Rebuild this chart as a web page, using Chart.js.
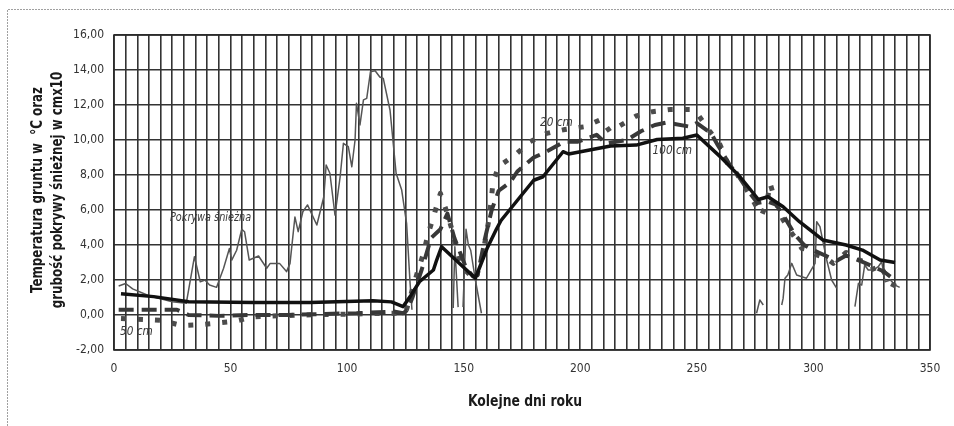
<!DOCTYPE html>
<html><head><meta charset="utf-8">
<script src="https://cdn.jsdelivr.net/npm/chart.js@4.4.0/dist/chart.umd.min.js"></script>
<style>html,body{margin:0;padding:0;background:#fff}#wrap{width:954px;height:426px;position:relative}</style>
</head><body><div id="wrap"><canvas id="c"></canvas></div>
<script>
// ---- data ----
const xLabelTicks = [0, 50, 100, 150, 200, 250, 300, 350];
const yLabelTicks = [-2, 0, 2, 4, 6, 8, 10, 12, 14, 16];

const depth100Days = [3,17,32,60,84,111,119,124,127,131,137,138.4,140.5,155,160,164,166,180,184,192.6,195,204,213,224,233,244,250,260,268.5,276.4,280.5,287,294,304,314,321,328.6,335];
const depth100Vals = [1.22,1.05,0.76,0.72,0.72,0.82,0.75,0.48,1.05,1.9,2.57,3.14,3.9,2.1,3.8,4.9,5.4,7.7,7.9,9.33,9.2,9.43,9.66,9.71,10.03,10.1,10.29,9.05,7.9,6.6,6.76,6.19,5.33,4.29,4.0,3.71,3.14,3.0];

const depth50Days = [2,15,27,32,45,58,75,90,104,120,124,126,128,132,136,140,143,146,151,154,156,159,162,165,170,173,180,185,193,199,207,211,220,226,232,237,247,250,256,259,264,268,272,276,280,284,288,292,296,300,305,310,314,320,325,330,335];
const depth50Vals = [0.3,0.3,0.3,0.0,-0.05,0.0,0.0,0.06,0.1,0.2,0.1,0.3,1.0,2.6,4.4,4.9,5.8,4.4,2.7,2.2,2.3,4.3,6.0,7.1,7.6,8.2,9.0,9.3,9.9,9.9,10.3,9.8,10.0,10.5,10.86,11.0,10.76,10.97,10.4,9.7,8.6,7.9,7.1,6.4,6.5,6.3,5.5,4.6,4.0,3.7,3.4,3.1,3.4,3.1,2.8,2.5,2.0];

const depth20Days = [3,20,29,37,45,52,60,80,100,120,125,130,132.7,134.6,137,140,142.7,145,147,149,155,158,161,162.6,165,172,178.4,185.6,193.4,202,209,212.7,224,231,239,247,250.6,255.6,260,263.5,267,271.4,275.6,277.8,280,281.4,284,287,290.7,292.8,295,298.5,301.4,305.7,308.5,314,319,325,326.4,329.3,333,335.7];
const depth20Vals = [-0.2,-0.3,-0.6,-0.55,-0.45,-0.35,-0.1,0.0,0.05,0.1,0.1,2.38,3.5,4.57,5.6,6.95,5.9,4.86,3.7,2.76,2.0,3.33,5.6,7.6,8.5,9.14,9.9,10.38,10.6,10.76,11.18,10.48,11.37,11.62,11.75,11.75,11.43,10.48,9.71,8.57,8.1,7.14,6.19,5.71,6.38,7.52,6.38,5.43,4.67,4.29,3.81,3.71,3.43,3.24,2.95,3.57,3.18,2.86,2.38,2.67,1.81,1.62];

const snowDays = [2,5,8,15,25,31,34.5,37,39,41,44,47,49.5,50.5,52.6,54.8,56,58,62,65.5,67,71,74,75.5,77.6,79,81,83,87,90,91,92.6,94.8,97,98.4,100.5,102,103.4,104,105.5,107,108.4,110,112,114,115.5,118.4,121,123.4,125.5,127,127.8,
  138,145.5,146.2,147.6,
  148.6,149.7,151,152,153,155,157.6,
  166,275.6,277,278.5,
  282,286.4,287,287.8,289,290.7,292.8,295,297,299,300.7,301.4,302.8,305.7,307.8,310,
  314,317.8,319.3,320.7,322,323.5,325.7,327.8,329.3,330.7,333,335,337];
const snowVals = [1.66,1.8,1.49,1.1,0.76,0.67,3.33,1.9,2.0,1.71,1.58,2.67,3.8,3.14,3.7,4.9,4.76,3.14,3.37,2.67,2.95,2.95,2.48,2.95,5.6,4.76,5.9,6.29,5.14,6.76,8.57,8.1,5.71,7.9,9.81,9.62,8.47,10.0,12.1,10.86,12.29,12.38,13.9,13.96,13.6,13.52,11.7,8.1,7.14,5.24,1.81,0.3,
  null,0.4,3.9,0.45,
  null,0.45,4.9,4.0,3.7,2.0,0.1,
  null,0.1,0.86,0.57,
  null,0.57,0.95,2.1,2.29,2.95,2.29,2.19,2.1,2.57,2.95,5.33,5.05,3.14,2.0,1.52,
  null,0.48,1.81,1.71,2.86,2.57,2.57,2.76,3.05,1.9,2.0,1.71,1.58];

const seriesNames = ['100 cm', '50 cm', '20 cm', 'Pokrywa śnieżna'];

// ---- helpers ----
const pts = (xs, ys) => xs.map((d, i) => ({x: d, y: ys[i]}));
const FONT = '"Liberation Sans Narrow","DejaVu Sans Condensed","Arial Narrow",sans-serif';

function narrowText(ctx, txt, x, y, sx, rot) {
  ctx.save();
  ctx.translate(x, y);
  if (rot) ctx.rotate(rot);
  ctx.scale(sx, 1);
  ctx.fillText(txt, 0, 0);
  ctx.restore();
}

const framePlugin = {
  id: 'frame',
  beforeDraw(chart) {
    const ctx = chart.ctx;
    ctx.save();
    ctx.strokeStyle = '#a0a0a0';
    ctx.lineWidth = 1;
    ctx.setLineDash([2, 1]);
    ctx.beginPath();
    ctx.moveTo(7.5, 426); ctx.lineTo(7.5, 9.5); ctx.lineTo(954, 9.5);
    ctx.stroke();
    ctx.restore();
  },
  afterDraw(chart) {
    const ctx = chart.ctx;
    const xs = chart.scales.x, ys = chart.scales.y;
    const a = chart.chartArea;
    ctx.save();
    ctx.strokeStyle = '#2a2a2a';
    ctx.lineWidth = 1.6;
    ctx.strokeRect(a.left, a.top, a.right - a.left, a.bottom - a.top);
    // annotations
    ctx.fillStyle = '#3a3a3a';
    ctx.textBaseline = 'middle';
    ctx.textAlign = 'left';
    ctx.font = 'italic 12px ' + FONT;
    narrowText(ctx, 'Pokrywa śnieżna', xs.getPixelForValue(24), ys.getPixelForValue(5.55), 0.9);
    ctx.font = 'italic 13px ' + FONT;
    narrowText(ctx, '50 cm', xs.getPixelForValue(2.6), ys.getPixelForValue(-0.97), 0.9);
    narrowText(ctx, '20 cm', xs.getPixelForValue(182.7), ys.getPixelForValue(11.0), 0.9);
    narrowText(ctx, '100 cm', xs.getPixelForValue(231), ys.getPixelForValue(9.4), 0.9);
    // axis titles
    ctx.fillStyle = '#1a1a1a';
    ctx.textAlign = 'center';
    ctx.font = 'bold 16px ' + FONT;
    narrowText(ctx, 'Kolejne dni roku', 525, 402, 0.86);
    ctx.font = 'bold 15px ' + FONT;
    narrowText(ctx, 'Temperatura gruntu w  °C oraz', 38, 190, 0.88, -Math.PI / 2);
    narrowText(ctx, 'grubość pokrywy śnieżnej w cmx10', 58, 190, 0.88, -Math.PI / 2);
    ctx.restore();
  }
};

new Chart(document.getElementById('c'), {
  type: 'line',
  data: {
    datasets: [
      {label: seriesNames[3], data: pts(snowDays, snowVals), borderColor: '#555555', borderWidth: 1.5, spanGaps: false, order: 4},
      {label: seriesNames[2], data: pts(depth20Days, depth20Vals), borderColor: '#4c4c4c', borderWidth: 5, borderDash: [5, 12], order: 3},
      {label: seriesNames[1], data: pts(depth50Days, depth50Vals), borderColor: '#383838', borderWidth: 4, borderDash: [15, 8], order: 2},
      {label: seriesNames[0], data: pts(depth100Days, depth100Vals), borderColor: '#111111', borderWidth: 3.5, order: 1}
    ]
  },
  options: {
    responsive: true,
    maintainAspectRatio: false,
    animation: false,
    devicePixelRatio: 1,
    elements: {point: {radius: 0}, line: {tension: 0, borderCapStyle: 'butt', borderJoinStyle: 'round'}},
    layout: {padding: {top: 35, right: 24, left: 0, bottom: 0}},
    plugins: {legend: {display: false}, tooltip: {enabled: false}},
    scales: {
      x: {
        type: 'linear', min: 0, max: 350,
        afterFit(s) { s.height = 76; },
        border: {display: false},
        grid: {color: '#333333', lineWidth: 1.6, drawTicks: false},
        ticks: {
          stepSize: 5, autoSkip: false, maxRotation: 0, padding: 12,
          color: '#333', font: {family: FONT, size: 12},
          callback: v => xLabelTicks.includes(v) ? String(v) : ''
        }
      },
      y: {
        type: 'linear', min: -2, max: 16,
        afterFit(s) { s.width = 114; },
        border: {display: false},
        grid: {color: '#333333', lineWidth: 1.6, drawTicks: false},
        ticks: {
          stepSize: 2, padding: 10,
          color: '#333', font: {family: FONT, size: 12},
          callback: v => yLabelTicks.includes(v) ? v.toFixed(2).replace('.', ',') : ''
        }
      }
    }
  },
  plugins: [framePlugin]
});
</script></body></html>
